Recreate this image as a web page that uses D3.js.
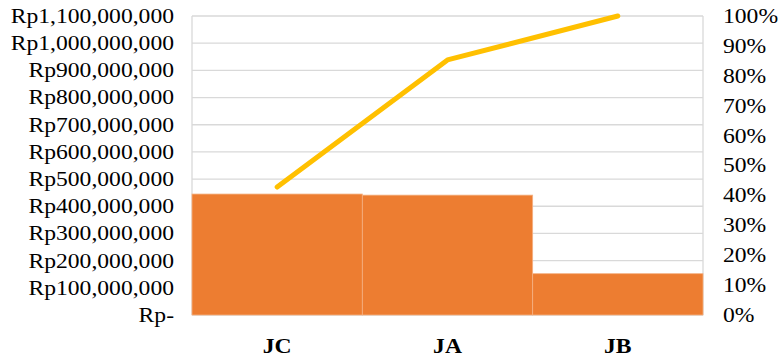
<!DOCTYPE html>
<meta charset="utf-8">
<style>
body { margin: 0; background: #fff; }
text { font-family: "Liberation Serif", "Times New Roman", serif; fill: #000; }
.grid line { stroke: #d9d9d9; stroke-width: 1.3; }
.bar { fill: #ed7d31; stroke: #f4b183; stroke-width: 0.8; }
.cum { fill: none; stroke: #ffc000; stroke-width: 5; stroke-linecap: round; stroke-linejoin: round; }
</style>
<body></body>
<script src="https://d3js.org/d3.v7.min.js"></script>
<script>
// data
var categories = ["JC", "JA", "JB"];
var amounts = [445000000, 441000000, 152000000];
var cumPercent = [0.428, 0.853, 1.0];
var leftTicks = d3.range(0, 1100000001, 100000000);
var rightTicks = d3.range(0, 1.0001, 0.1);

var W = 783, H = 358;
var margin = {top: 16, right: 80, bottom: 43, left: 192};
var stretch = 1.18; // glyphs in the picture are a bit wider than normal

var svg = d3.select("body").append("svg")
    .attr("width", W)
    .attr("height", H);

var x = d3.scaleBand()
    .domain(categories)
    .range([margin.left, W - margin.right])
    .padding(0);

var y = d3.scaleLinear()
    .domain([0, 1100000000])
    .range([H - margin.bottom, margin.top]);

var y2 = d3.scaleLinear()
    .domain([0, 1])
    .range([H - margin.bottom, margin.top]);

// gridlines + plot frame
var grid = svg.append("g").attr("class", "grid");
grid.selectAll("line.h")
    .data(leftTicks)
  .enter().append("line")
    .attr("class", "h")
    .attr("x1", margin.left)
    .attr("x2", W - margin.right)
    .attr("y1", function(d) { return y(d); })
    .attr("y2", function(d) { return y(d); });
grid.selectAll("line.v")
    .data([margin.left, W - margin.right])
  .enter().append("line")
    .attr("class", "v")
    .attr("x1", function(d) { return d; })
    .attr("x2", function(d) { return d; })
    .attr("y1", y(1100000000))
    .attr("y2", y(0));

// bars
svg.selectAll(".bar")
    .data(amounts)
  .enter().append("rect")
    .attr("class", "bar")
    .attr("x", function(d, i) { return x(categories[i]); })
    .attr("width", x.bandwidth())
    .attr("y", function(d) { return y(d); })
    .attr("height", function(d) { return y(0) - y(d); });

// cumulative line
var line = d3.line()
    .x(function(d, i) { return x(categories[i]) + x.bandwidth() / 2; })
    .y(function(d) { return y2(d); });

svg.append("path")
    .datum(cumPercent)
    .attr("class", "cum")
    .attr("d", line);

// left axis
function rupiah(d) {
  return d === 0 ? "Rp-" : "Rp" + d3.format(",")(d);
}
var yAxis = d3.axisLeft(y)
    .tickValues(leftTicks)
    .tickFormat(rupiah)
    .tickSize(0)
    .tickPadding(18);

var gl = svg.append("g")
    .attr("transform", "translate(" + margin.left + ",0)")
    .call(yAxis);

// right axis
var yAxis2 = d3.axisRight(y2)
    .tickValues(rightTicks)
    .tickFormat(d3.format(".0%"))
    .tickSize(0)
    .tickPadding(20);

var gr = svg.append("g")
    .attr("transform", "translate(" + (W - margin.right) + ",0)")
    .call(yAxis2);

// category axis
var xAxis = d3.axisBottom(x)
    .tickSize(0)
    .tickPadding(24);

var gx = svg.append("g")
    .attr("transform", "translate(0," + (H - margin.bottom) + ")")
    .call(xAxis);

[gl, gr, gx].forEach(function(g) {
  g.select(".domain").remove();
  g.selectAll("text")
    .attr("font-family", null)
    .style("font-size", "20px");
});
gx.selectAll("text").style("font-weight", "bold");

// widen glyphs to match the picture
svg.selectAll(".tick text").each(function() {
  var len = this.getComputedTextLength();
  d3.select(this)
    .attr("textLength", len * stretch)
    .attr("lengthAdjust", "spacingAndGlyphs");
});
</script>
